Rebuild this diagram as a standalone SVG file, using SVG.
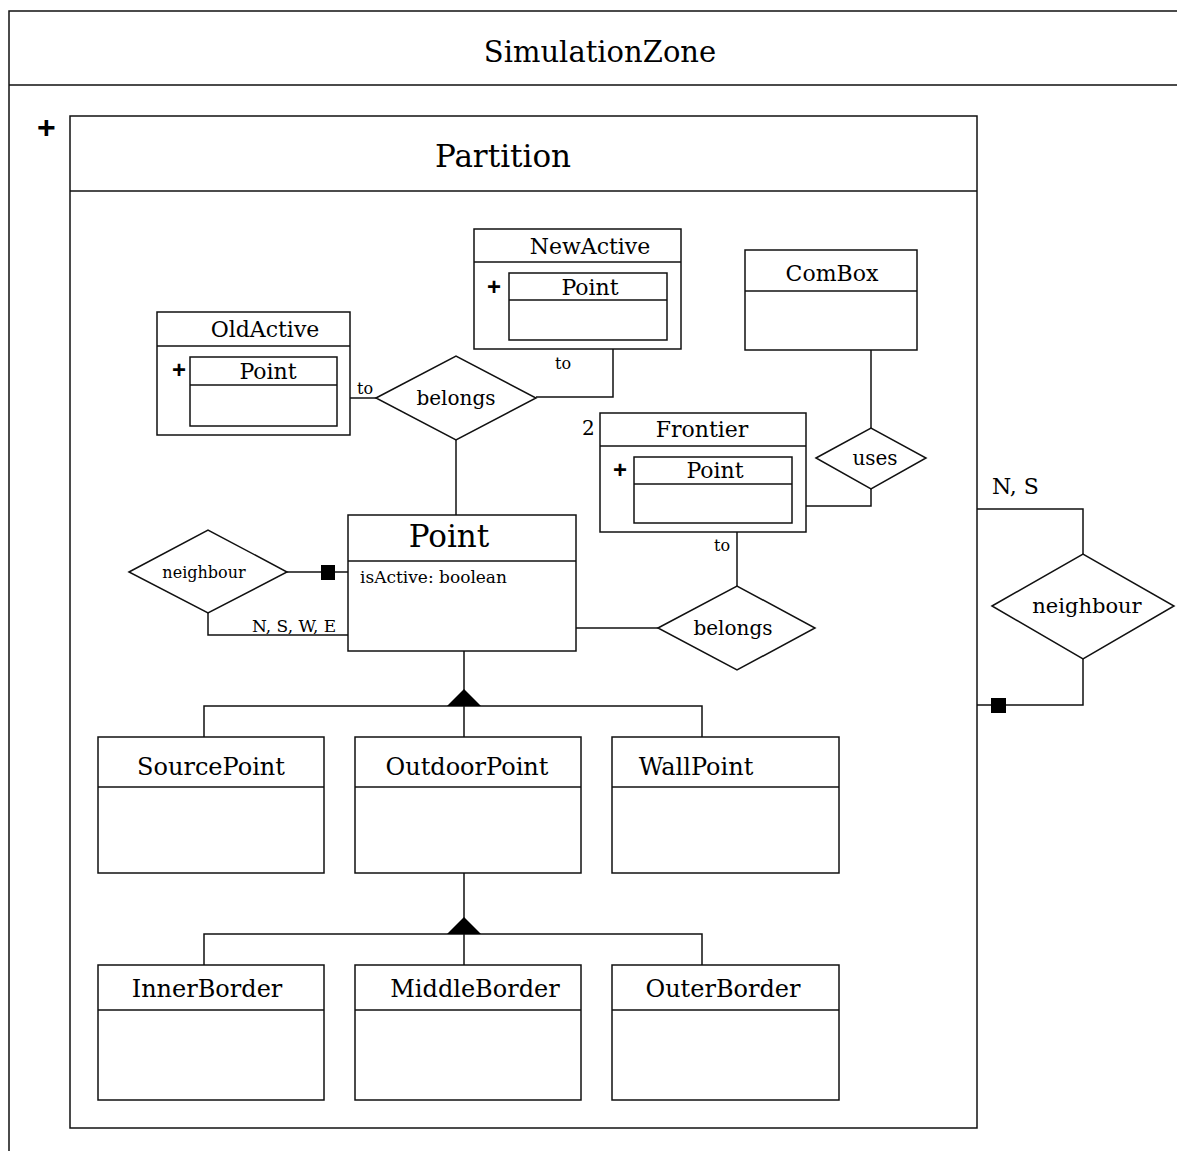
<svg xmlns="http://www.w3.org/2000/svg" width="1177" height="1151" viewBox="0 0 1177 1151">
<style>
.b{fill:#fff;stroke:#111;stroke-width:1.5}
.l{fill:none;stroke:#111;stroke-width:1.5}
.t{font-family:"DejaVu Serif","Liberation Serif",serif;fill:#000}
.c{text-anchor:middle}
.p{font-family:"Liberation Sans",Arial,sans-serif;font-weight:bold;fill:#000}
</style>
<rect width="1177" height="1151" fill="#fff"/>
<g id="SimulationZone">
<path class="l" d="M1177,11 H9 V1151 M9,85 H1177"/>
<text class="t c" x="600" y="62" font-size="29">SimulationZone</text>
<text class="p" x="37" y="138" font-size="32">+</text>
</g>
<g id="Partition">
<rect class="b" x="70" y="116" width="907" height="1012"/>
<line class="l" x1="70" y1="191" x2="977" y2="191"/>
<text class="t c" x="503" y="167" font-size="31">Partition</text>
</g>
<g id="connectors">
<path class="l" d="M350,398 H376"/>
<path class="l" d="M536,397 H613 V349"/>
<path class="l" d="M456,440 V515"/>
<path class="l" d="M871,350 V428"/>
<path class="l" d="M871,489 V506 H806"/>
<path class="l" d="M737,532 V586"/>
<path class="l" d="M576,628 H658"/>
<path class="l" d="M287,572 H348"/>
<rect x="321" y="565" width="14" height="15" fill="#000"/>
<path class="l" d="M208,613 V635 H348"/>
<path class="l" d="M464,651 V692 M204,737 V706 H702 V737 M464,706 V737"/>
<polygon points="464,689 447,706 481,706" fill="#000"/>
<path class="l" d="M464,873 V920 M204,965 V934 H702 V965 M464,934 V965"/>
<polygon points="464,917 447,934 481,934" fill="#000"/>
<path class="l" d="M977,509 H1083 V554"/>
<path class="l" d="M1083,659 V705 H977"/>
<rect x="991" y="698" width="15" height="15" fill="#000"/>
<text class="t" x="357" y="394" font-size="16">to</text>
<text class="t" x="555" y="369" font-size="16">to</text>
<text class="t" x="714" y="551" font-size="16">to</text>
<text class="t" x="252" y="632" font-size="17">N, S, W, E</text>
<text class="t" x="992" y="494" font-size="22">N, S</text>
</g>
<g id="NewActive">
<rect class="b" x="474" y="229" width="207" height="120"/>
<line class="l" x1="474" y1="262" x2="681" y2="262"/>
<text class="t c" x="590" y="254" font-size="22">NewActive</text>
<rect class="b" x="509" y="273" width="158" height="67"/>
<line class="l" x1="509" y1="300" x2="667" y2="300"/>
<text class="t c" x="590" y="295" font-size="22">Point</text>
<text class="p" x="487" y="295" font-size="24">+</text>
</g>
<g id="OldActive">
<rect class="b" x="157" y="312" width="193" height="123"/>
<line class="l" x1="157" y1="346" x2="350" y2="346"/>
<text class="t c" x="265" y="337" font-size="22">OldActive</text>
<rect class="b" x="190" y="357" width="147" height="69"/>
<line class="l" x1="190" y1="385" x2="337" y2="385"/>
<text class="t c" x="268" y="379" font-size="22">Point</text>
<text class="p" x="172" y="378" font-size="24">+</text>
</g>
<g id="belongs1">
<polygon class="b" points="376,398 456,356 536,398 456,440"/>
<text class="t c" x="456" y="405" font-size="20">belongs</text>
</g>
<g id="ComBox">
<rect class="b" x="745" y="250" width="172" height="100"/>
<line class="l" x1="745" y1="291" x2="917" y2="291"/>
<text class="t c" x="832" y="281" font-size="22">ComBox</text>
</g>
<g id="Frontier">
<rect class="b" x="600" y="413" width="206" height="119"/>
<line class="l" x1="600" y1="446" x2="806" y2="446"/>
<text class="t c" x="702" y="437" font-size="22">Frontier</text>
<text class="t" x="582" y="435" font-size="20">2</text>
<rect class="b" x="634" y="457" width="158" height="66"/>
<line class="l" x1="634" y1="484" x2="792" y2="484"/>
<text class="t c" x="715" y="478" font-size="22">Point</text>
<text class="p" x="613" y="478" font-size="24">+</text>
</g>
<g id="uses">
<polygon class="b" points="816,458 871,428 926,458 871,489"/>
<text class="t c" x="875" y="465" font-size="20">uses</text>
</g>
<g id="belongs2">
<polygon class="b" points="658,628 737,586 815,628 737,670"/>
<text class="t c" x="733" y="635" font-size="20">belongs</text>
</g>
<g id="Point">
<rect class="b" x="348" y="515" width="228" height="136"/>
<line class="l" x1="348" y1="561" x2="576" y2="561"/>
<text class="t c" x="449" y="547" font-size="31">Point</text>
<text class="t" x="360" y="583" font-size="17">isActive: boolean</text>
</g>
<g id="neighbourLeft">
<polygon class="b" points="129,572 208,530 287,572 208,613"/>
<text class="t c" x="204" y="578" font-size="16">neighbour</text>
</g>
<g id="neighbourRight">
<polygon class="b" points="992,606 1083,554 1174,606 1083,659"/>
<text class="t c" x="1087" y="613" font-size="21">neighbour</text>
</g>
<g id="SourcePoint">
<rect class="b" x="98" y="737" width="226" height="136"/>
<line class="l" x1="98" y1="787" x2="324" y2="787"/>
<text class="t c" x="211" y="775" font-size="24">SourcePoint</text>
</g>
<g id="OutdoorPoint">
<rect class="b" x="355" y="737" width="226" height="136"/>
<line class="l" x1="355" y1="787" x2="581" y2="787"/>
<text class="t c" x="467" y="775" font-size="24">OutdoorPoint</text>
</g>
<g id="WallPoint">
<rect class="b" x="612" y="737" width="227" height="136"/>
<line class="l" x1="612" y1="787" x2="839" y2="787"/>
<text class="t c" x="696" y="775" font-size="24">WallPoint</text>
</g>
<g id="InnerBorder">
<rect class="b" x="98" y="965" width="226" height="135"/>
<line class="l" x1="98" y1="1010" x2="324" y2="1010"/>
<text class="t c" x="207" y="997" font-size="24">InnerBorder</text>
</g>
<g id="MiddleBorder">
<rect class="b" x="355" y="965" width="226" height="135"/>
<line class="l" x1="355" y1="1010" x2="581" y2="1010"/>
<text class="t c" x="475" y="997" font-size="24">MiddleBorder</text>
</g>
<g id="OuterBorder">
<rect class="b" x="612" y="965" width="227" height="135"/>
<line class="l" x1="612" y1="1010" x2="839" y2="1010"/>
<text class="t c" x="723" y="997" font-size="24">OuterBorder</text>
</g>
</svg>
